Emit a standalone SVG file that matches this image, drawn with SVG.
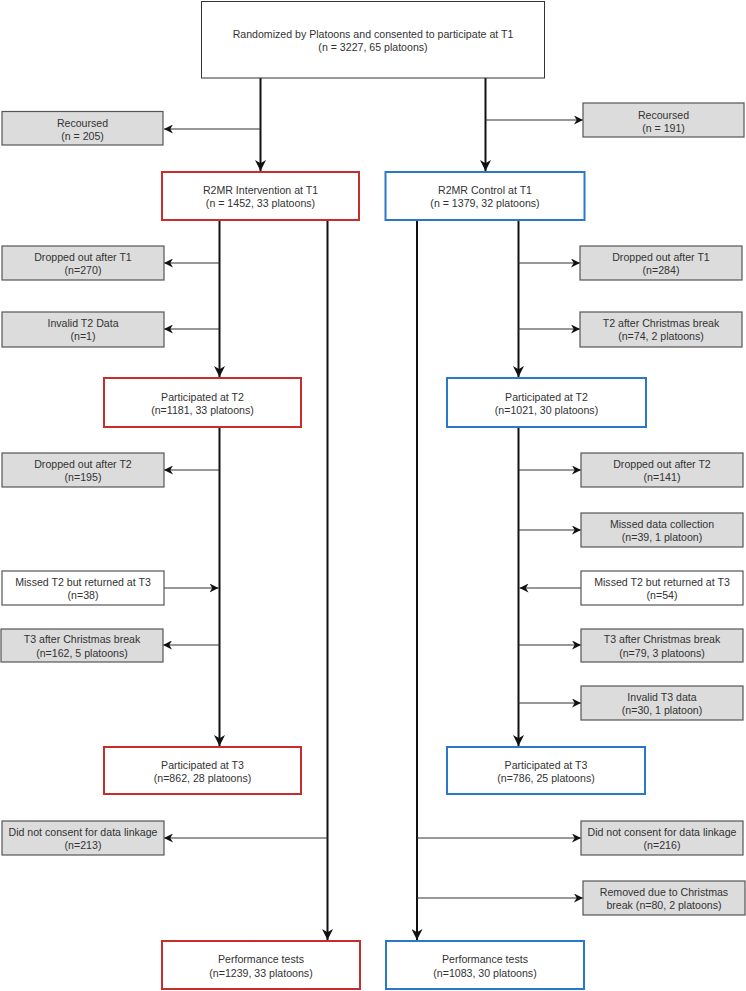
<svg xmlns="http://www.w3.org/2000/svg" width="746" height="991" viewBox="0 0 746 991">
<style>
text{font-family:"Liberation Sans",Arial,sans-serif;font-size:10.6px;fill:#333;text-anchor:middle}
.top{fill:#fff;stroke:#333;stroke-width:1}
.gray{fill:#dcdcdc;stroke:#555;stroke-width:1.2}
.white{fill:#fff;stroke:#555;stroke-width:1.2}
.red{fill:#fff;stroke:#c62d2d;stroke-width:2}
.blue{fill:#fff;stroke:#2b78c9;stroke-width:2}
.main{stroke:#111;stroke-width:2;fill:none}
.side{stroke:#333;stroke-width:1.2;fill:none}
</style>
<defs>
<marker id="ah" viewBox="0 0 10 10" refX="10" refY="5" markerWidth="11" markerHeight="11" markerUnits="userSpaceOnUse" orient="auto">
<path d="M0,0 L10,5 L0,10 L3,5 z" fill="#111"/>
</marker>
<marker id="as" viewBox="0 0 10 10" refX="10" refY="5" markerWidth="9" markerHeight="9" markerUnits="userSpaceOnUse" orient="auto">
<path d="M0,0 L10,5 L0,10 L3,5 z" fill="#111"/>
</marker>
</defs>
<g id="connectors">
<path class="main" d="M260.5,78 V171" marker-end="url(#ah)"/>
<path class="main" d="M485.5,78 V171" marker-end="url(#ah)"/>
<path class="main" d="M219.5,220 V377" marker-end="url(#ah)"/>
<path class="main" d="M327.5,220 V940" marker-end="url(#ah)"/>
<path class="main" d="M417,220 V940" marker-end="url(#ah)"/>
<path class="main" d="M518.5,220 V377" marker-end="url(#ah)"/>
<path class="main" d="M219.5,427 V746" marker-end="url(#ah)"/>
<path class="main" d="M518.5,427 V746" marker-end="url(#ah)"/>
<path class="side" d="M260.5,129 H164" marker-end="url(#as)"/>
<path class="side" d="M485.5,120 H583" marker-end="url(#as)"/>
<path class="side" d="M219.5,263 H164" marker-end="url(#as)"/>
<path class="side" d="M219.5,329 H164" marker-end="url(#as)"/>
<path class="side" d="M518.5,263 H580" marker-end="url(#as)"/>
<path class="side" d="M518.5,329 H580" marker-end="url(#as)"/>
<path class="side" d="M219.5,470 H164" marker-end="url(#as)"/>
<path class="side" d="M164,588 H218.5" marker-end="url(#as)"/>
<path class="side" d="M219.5,645 H163" marker-end="url(#as)"/>
<path class="side" d="M518.5,470 H581" marker-end="url(#as)"/>
<path class="side" d="M518.5,530 H581" marker-end="url(#as)"/>
<path class="side" d="M581,588 H519.5" marker-end="url(#as)"/>
<path class="side" d="M518.5,645 H581" marker-end="url(#as)"/>
<path class="side" d="M518.5,703 H581" marker-end="url(#as)"/>
<path class="side" d="M327.5,838 H164" marker-end="url(#as)"/>
<path class="side" d="M417,838 H581" marker-end="url(#as)"/>
<path class="side" d="M417,898 H583" marker-end="url(#as)"/>
</g>
<g id="randomized">
<rect class="top" x="201.5" y="1.5" width="343" height="76.5"/>
<text x="373" y="37.5">Randomized by Platoons and consented to participate at T1</text>
<text x="373" y="50.5">(n = 3227, 65 platoons)</text>
</g>
<g id="recoursed-left">
<rect class="gray" x="2" y="111.5" width="161" height="33.5"/>
<text x="82.5" y="127">Recoursed</text>
<text x="82.5" y="139.5">(n = 205)</text>
</g>
<g id="recoursed-right">
<rect class="gray" x="583" y="103" width="161" height="34"/>
<text x="663.5" y="119">Recoursed</text>
<text x="663.5" y="131.5">(n = 191)</text>
</g>
<g id="intervention-t1">
<rect class="red" x="162" y="172" width="197" height="48"/>
<text x="260.5" y="194">R2MR Intervention at T1</text>
<text x="260.5" y="206.5">(n = 1452, 33 platoons)</text>
</g>
<g id="control-t1">
<rect class="blue" x="385.5" y="172" width="199" height="48"/>
<text x="485" y="194">R2MR Control at T1</text>
<text x="485" y="206.5">(n = 1379, 32 platoons)</text>
</g>
<g id="dropped-t1-left">
<rect class="gray" x="2" y="246" width="162" height="34"/>
<text x="83" y="260.5">Dropped out after T1</text>
<text x="83" y="274">(n=270)</text>
</g>
<g id="invalid-t2-left">
<rect class="gray" x="2" y="312" width="162" height="35"/>
<text x="83" y="326.5">Invalid T2 Data</text>
<text x="83" y="340">(n=1)</text>
</g>
<g id="dropped-t1-right">
<rect class="gray" x="580" y="246" width="162" height="34"/>
<text x="661" y="260.5">Dropped out after T1</text>
<text x="661" y="274">(n=284)</text>
</g>
<g id="t2-christmas-right">
<rect class="gray" x="580" y="312" width="162" height="35"/>
<text x="661" y="326.5">T2 after Christmas break</text>
<text x="661" y="340">(n=74, 2 platoons)</text>
</g>
<g id="participated-t2-left">
<rect class="red" x="104" y="378" width="197" height="49"/>
<text x="202.5" y="400.5">Participated at T2</text>
<text x="202.5" y="414">(n=1181, 33 platoons)</text>
</g>
<g id="participated-t2-right">
<rect class="blue" x="447" y="378" width="199" height="49"/>
<text x="546.5" y="400.5">Participated at T2</text>
<text x="546.5" y="414">(n=1021, 30 platoons)</text>
</g>
<g id="dropped-t2-left">
<rect class="gray" x="2" y="453" width="162" height="34"/>
<text x="83" y="467.5">Dropped out after T2</text>
<text x="83" y="481">(n=195)</text>
</g>
<g id="missed-t2-left">
<rect class="white" x="2" y="571" width="162" height="34"/>
<text x="83" y="585.5">Missed T2 but returned at T3</text>
<text x="83" y="599">(n=38)</text>
</g>
<g id="t3-christmas-left">
<rect class="gray" x="1" y="629" width="162" height="33"/>
<text x="82" y="643">T3 after Christmas break</text>
<text x="82" y="656.5">(n=162, 5 platoons)</text>
</g>
<g id="dropped-t2-right">
<rect class="gray" x="581" y="453" width="162" height="34"/>
<text x="662" y="467.5">Dropped out after T2</text>
<text x="662" y="481">(n=141)</text>
</g>
<g id="missed-data-right">
<rect class="gray" x="581" y="513" width="162" height="34"/>
<text x="662" y="527.5">Missed data collection</text>
<text x="662" y="541">(n=39, 1 platoon)</text>
</g>
<g id="missed-t2-right">
<rect class="white" x="581" y="571" width="162" height="34"/>
<text x="662" y="585.5">Missed T2 but returned at T3</text>
<text x="662" y="599">(n=54)</text>
</g>
<g id="t3-christmas-right">
<rect class="gray" x="581" y="629" width="162" height="33"/>
<text x="662" y="643">T3 after Christmas break</text>
<text x="662" y="656.5">(n=79, 3 platoons)</text>
</g>
<g id="invalid-t3-right">
<rect class="gray" x="581" y="686" width="162" height="34"/>
<text x="662" y="700.5">Invalid T3 data</text>
<text x="662" y="714">(n=30, 1 platoon)</text>
</g>
<g id="participated-t3-left">
<rect class="red" x="104" y="747" width="197" height="47"/>
<text x="202.5" y="768.5">Participated at T3</text>
<text x="202.5" y="782">(n=862, 28 platoons)</text>
</g>
<g id="participated-t3-right">
<rect class="blue" x="447" y="747" width="198" height="47"/>
<text x="546" y="768.5">Participated at T3</text>
<text x="546" y="782">(n=786, 25 platoons)</text>
</g>
<g id="consent-left">
<rect class="gray" x="2" y="821" width="162" height="34"/>
<text x="83" y="835.5">Did not consent for data linkage</text>
<text x="83" y="849">(n=213)</text>
</g>
<g id="consent-right">
<rect class="gray" x="581" y="821" width="162" height="34"/>
<text x="662" y="835.5">Did not consent for data linkage</text>
<text x="662" y="849">(n=216)</text>
</g>
<g id="removed-right">
<rect class="gray" x="583" y="881" width="162" height="34"/>
<text x="664" y="895.5">Removed due to Christmas</text>
<text x="664" y="909">break (n=80, 2 platoons)</text>
</g>
<g id="performance-left">
<rect class="red" x="162" y="941" width="198" height="48"/>
<text x="261" y="963">Performance tests</text>
<text x="261" y="976.5">(n=1239, 33 platoons)</text>
</g>
<g id="performance-right">
<rect class="blue" x="386" y="941" width="198" height="48"/>
<text x="485" y="963">Performance tests</text>
<text x="485" y="976.5">(n=1083, 30 platoons)</text>
</g>
</svg>
